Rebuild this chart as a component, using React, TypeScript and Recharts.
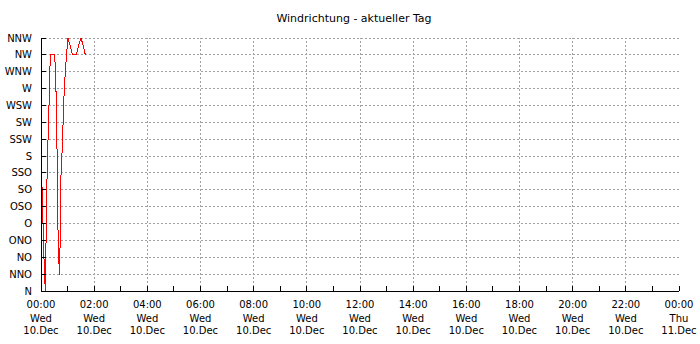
import React from 'react';
import { LineChart, Line, XAxis, YAxis, CartesianGrid, ReferenceLine } from 'recharts';

// Wind direction labels (bottom to top)
const directionLabels = ['N', 'NNO', 'NO', 'ONO', 'O', 'OSO', 'SO', 'SSO', 'S', 'SSW', 'SW', 'WSW', 'W', 'WNW', 'NW', 'NNW'];
const directionTicks = [0, 22.5, 45, 67.5, 90, 112.5, 135, 157.5, 180, 202.5, 225, 247.5, 270, 292.5, 315, 337.5];

// Time axis (minutes since midnight)
const hourTicks = [0, 60, 120, 180, 240, 300, 360, 420, 480, 540, 600, 660, 720, 780, 840, 900, 960, 1020, 1080, 1140, 1200, 1260, 1320, 1380, 1440];
const gridMinutes = [120, 240, 360, 480, 600, 720, 840, 960, 1080, 1200, 1320];
const timeLabels = ['00:00', '02:00', '04:00', '06:00', '08:00', '10:00', '12:00', '14:00', '16:00', '18:00', '20:00', '22:00', '00:00'];
const dayLabels = ['Wed', 'Wed', 'Wed', 'Wed', 'Wed', 'Wed', 'Wed', 'Wed', 'Wed', 'Wed', 'Wed', 'Wed', 'Thu'];
const dateLabels = ['10.Dec', '10.Dec', '10.Dec', '10.Dec', '10.Dec', '10.Dec', '10.Dec', '10.Dec', '10.Dec', '10.Dec', '10.Dec', '10.Dec', '11.Dec'];

// Series: measurement time (minutes) and wind direction (degrees)
const sampleMinutes = [1.5, 3.4, 7.4, 9.7, 12, 14.2, 16.9, 21, 30.9, 33.2, 35.4, 36.8, 39, 42.2, 44, 45.8, 48.5, 50.3, 53, 57.6, 61, 64.8, 68.4, 70.7, 79.7, 85.1, 90.3, 95.9, 100];
const windDirection = [157.5, 112.5, 31.5, 0, 92, 172, 221, 315, 315, 283.5, 227, 157.5, 54, 21, 112.5, 175.5, 189, 238.5, 274.5, 315, 337.5, 329, 321.5, 315, 315, 328.5, 337.5, 326, 315];

const data = sampleMinutes.map((t, i) => ({ t, dir: windDirection[i] }));

const FONT = 'DejaVu Sans';
const GRID = '#a0a0a0';

const BottomTick = (props: any) => {
  const { x, y, payload } = props;
  const h = Math.round(payload.value / 60);
  const showLabel = h % 2 === 0;
  const idx = h / 2;
  return (
    <g>
      <line x1={x} y1={y} x2={x} y2={y - 5} stroke="#000" strokeWidth={1} shapeRendering="crispEdges" />
      {showLabel && (
        <text x={x} y={y} textAnchor="middle" fontSize={10} fontFamily={FONT} fill="#000">
          <tspan x={x} y={y + 17}>{timeLabels[idx]}</tspan>
          <tspan x={x} y={y + 30.5}>{dayLabels[idx]}</tspan>
          <tspan x={x} y={y + 42.5}>{dateLabels[idx]}</tspan>
        </text>
      )}
    </g>
  );
};

const TopTick = (props: any) => {
  const { x, y } = props;
  return <line x1={x} y1={y} x2={x} y2={y + 5} stroke="#000" strokeWidth={1} shapeRendering="crispEdges" />;
};

const LeftTick = (props: any) => {
  const { x, y, payload } = props;
  const idx = Math.round(payload.value / 22.5);
  return (
    <g>
      <line x1={x} y1={y} x2={x + 5} y2={y} stroke="#000" strokeWidth={1} shapeRendering="crispEdges" />
      <text x={x - 9} y={y + 3.5} textAnchor="end" fontSize={10} fontFamily={FONT} fill="#000">
        {directionLabels[idx]}
      </text>
    </g>
  );
};

export default function App() {
  return (
    <div style={{ position: 'absolute', left: 0, top: 0, width: 700, height: 344, background: '#fff' }}>
      <svg width={700} height={40} style={{ position: 'absolute', left: 0, top: 0 }}>
        <text x={354} y={22} textAnchor="middle" fontSize={11} fontFamily={FONT} fill="#000">
          Windrichtung - aktueller Tag
        </text>
      </svg>
      <LineChart
        width={700}
        height={344}
        data={data}
        margin={{ top: 38, right: 21, bottom: 0, left: 0 }}
        style={{ position: 'absolute', left: 0, top: 0 }}
      >
        <CartesianGrid xAxisId="bottom" yAxisId="left" vertical={false} stroke={GRID} strokeDasharray="2 2" shapeRendering="crispEdges" />
        {gridMinutes.map((m) => (
          <ReferenceLine key={m} x={m} xAxisId="bottom" yAxisId="left" stroke={GRID} strokeDasharray="2 2" shapeRendering="crispEdges" />
        ))}
        <Line
          xAxisId="bottom"
          yAxisId="left"
          type="linear"
          dataKey="dir"
          stroke="#ff0000"
          strokeWidth={1}
          dot={false}
          shapeRendering="crispEdges"
          isAnimationActive={false}
        />
        <XAxis
          xAxisId="bottom"
          dataKey="t"
          type="number"
          domain={[0, 1440]}
          ticks={hourTicks}
          interval={0}
          height={53}
          tickSize={0}
          tickMargin={0}
          tickLine={false}
          axisLine={{ stroke: '#000', shapeRendering: 'crispEdges' }}
          tick={<BottomTick />}
          allowDataOverflow
        />
        <XAxis
          xAxisId="top"
          orientation="top"
          type="number"
          domain={[0, 1440]}
          ticks={hourTicks}
          interval={0}
          height={0}
          tickSize={0}
          tickMargin={0}
          tickLine={false}
          axisLine={{ stroke: '#000', shapeRendering: 'crispEdges' }}
          tick={<TopTick />}
        />
        <YAxis
          yAxisId="left"
          type="number"
          domain={[0, 337.5]}
          ticks={directionTicks}
          interval={0}
          width={41}
          tickSize={0}
          tickMargin={0}
          tickLine={false}
          axisLine={{ stroke: '#000', shapeRendering: 'crispEdges' }}
          tick={<LeftTick />}
        />
        <YAxis
          yAxisId="right"
          orientation="right"
          type="number"
          domain={[0, 337.5]}
          width={0}
          tick={false}
          tickLine={false}
          axisLine={{ stroke: '#000', shapeRendering: 'crispEdges' }}
        />
      </LineChart>
    </div>
  );
}
